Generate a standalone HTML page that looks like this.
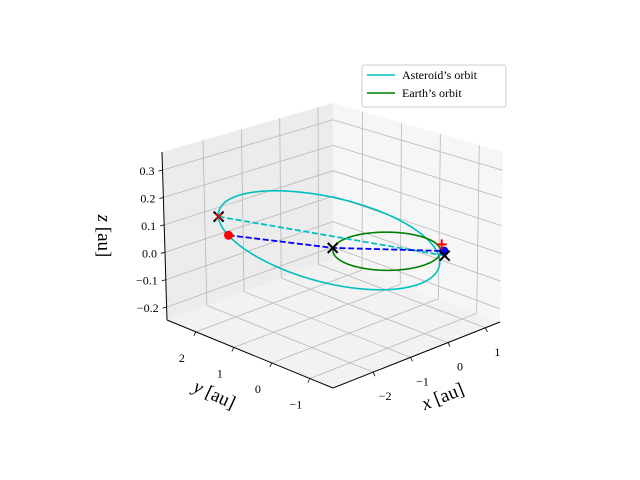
<!DOCTYPE html>
<html><head><meta charset="utf-8"><style>
html,body{margin:0;padding:0;background:#fff}
svg{display:block}
text{font-family:"Liberation Serif",serif;fill:#000}
</style></head><body>
<svg id="chart" width="640" height="480" viewBox="0 0 640 480" xmlns="http://www.w3.org/2000/svg">
<g id="panes"></g>
<g id="grid"></g>
<g id="axes"></g>
<g id="series"></g>
<g id="labels">
  <text x="445" y="402" font-size="19" text-anchor="middle" transform="rotate(-22 445 402)"><tspan font-style="italic">x</tspan> [au]</text>
  <text x="212" y="400" font-size="19" text-anchor="middle" transform="rotate(25 212 400)"><tspan font-style="italic">y</tspan> [au]</text>
  <text x="98" y="236" font-size="19" text-anchor="middle" transform="rotate(90 98 236)"><tspan font-style="italic">z</tspan> [au]</text>
</g>
<g>
  <rect x="362" y="65" width="144" height="42" rx="2" fill="#fff" fill-opacity="0.8" stroke="#cccccc"/>
  <line x1="367" y1="75" x2="395" y2="75" stroke="#00bfbf" stroke-width="1.5"/>
  <text x="402" y="79" font-size="12">Asteroid’s orbit</text>
  <line x1="367" y1="93" x2="395" y2="93" stroke="#008000" stroke-width="1.5"/>
  <text x="402" y="97" font-size="12">Earth’s orbit</text>
</g>
</svg>
<script>
// ---- data ----
const xTicks = [-2, -1, 0, 1];
const yTicks = [-1, 0, 1, 2];
const zTicks = [-0.2, -0.1, 0.0, 0.1, 0.2, 0.3];
const zTickLabels = ["\u22120.2", "\u22120.1", "0.0", "0.1", "0.2", "0.3"];
const xTickLabels = ["\u22122", "\u22121", "0", "1"];
const yTickLabels = ["\u22121", "0", "1", "2"];
// a, e, longitude of perihelion (deg), plane slope dz/dx, plane slope dz/dy
const asteroidElements = [2.05, 0.52, -45, -0.012, 0.044];
const earthElements = [1.0, 0.0, 0, 0, 0];
const asteroidPos1 = [-2.2, 2.2, 0.12];
const asteroidPos2 = [0.76, -0.68, 0.02];
const earthPos1 = [-0.7, 0.72, 0.01];
const earthPos2 = [0.74, -0.78, -0.015];
const projPos1 = [-2.05, 2.1, 0.05];
const projPos2 = [0.8, -0.7, -0.005];

// ---- projection (trilinear through box corners) ----
const XR = [-3.07, 1.39], YR = [-1.61, 2.76], ZR = [-0.247, 0.366];
const B = {f:[333,388], r:[500,322], l:[167,320], b:[333,259]};
const T = {f:[333,209], r:[503,152], l:[162,152], b:[333,103]};
function bil(C,u,v){return [0,1].map(k=>(1-u)*(1-v)*C.f[k]+u*(1-v)*C.r[k]+(1-u)*v*C.l[k]+u*v*C.b[k]);}
function P(x,y,z){
  const u=(x-XR[0])/(XR[1]-XR[0]), v=(y-YR[0])/(YR[1]-YR[0]), w=(z-ZR[0])/(ZR[1]-ZR[0]);
  const a=bil(B,u,v), t=bil(T,u,v);
  return [a[0]+(t[0]-a[0])*w, a[1]+(t[1]-a[1])*w];
}
const NS="http://www.w3.org/2000/svg";
function mk(tag, parent, attrs){const e=document.createElementNS(NS,tag);for(const k in attrs)e.setAttribute(k,attrs[k]);parent.appendChild(e);return e;}
function pts(arr){return arr.map(p=>{const q=P(p[0],p[1],p[2]);return q[0].toFixed(2)+","+q[1].toFixed(2);}).join(" ");}

const panes=document.getElementById('panes'), grid=document.getElementById('grid'), axes=document.getElementById('axes'), series=document.getElementById('series');
let e;
e=mk('polygon',panes,{points:pts([[XR[0],YR[0],ZR[0]],[XR[1],YR[0],ZR[0]],[XR[1],YR[1],ZR[0]],[XR[0],YR[1],ZR[0]]]),fill:'#f2f2f2'});


e=mk('polygon',panes,{points:pts([[XR[0],YR[1],ZR[0]],[XR[1],YR[1],ZR[0]],[XR[1],YR[1],ZR[1]],[XR[0],YR[1],ZR[1]]]),fill:'#ececec'});


e=mk('polygon',panes,{points:pts([[XR[1],YR[0],ZR[0]],[XR[1],YR[1],ZR[0]],[XR[1],YR[1],ZR[1]],[XR[1],YR[0],ZR[1]]]),fill:'#f6f6f6'});


function gl(a,b,name){const l=mk('polyline',grid,{points:pts([a,b]),fill:'none',stroke:'#b8b8b8','stroke-width':0.8});

}
xTicks.forEach(x=>{gl([x,YR[0],ZR[0]],[x,YR[1],ZR[0]],'grid-x-floor');gl([x,YR[1],ZR[0]],[x,YR[1],ZR[1]],'grid-x-wall');});
yTicks.forEach(y=>{gl([XR[0],y,ZR[0]],[XR[1],y,ZR[0]],'grid-y-floor');gl([XR[1],y,ZR[0]],[XR[1],y,ZR[1]],'grid-y-wall');});
zTicks.forEach(z=>{gl([XR[0],YR[1],z],[XR[1],YR[1],z],'grid-z-left');gl([XR[1],YR[1],z],[XR[1],YR[0],z],'grid-z-right');});
function al(a,b,name){const l=mk('polyline',axes,{points:pts([a,b]),fill:'none',stroke:'#000','stroke-width':1});

}
al([XR[0],YR[0],ZR[0]],[XR[1],YR[0],ZR[0]],'x-axis-line');
al([XR[0],YR[0],ZR[0]],[XR[0],YR[1],ZR[0]],'y-axis-line');
al([XR[0],YR[1],ZR[0]],[XR[0],YR[1],ZR[1]],'z-axis-line');
xTicks.forEach((x,i)=>{const p=P(x,YR[0],ZR[0]);
  const t=mk('line',axes,{x1:p[0],y1:p[1],x2:p[0]+2,y2:p[1]+4,stroke:'#000','stroke-width':0.8});
  
  
  const s=mk('text',axes,{x:p[0]+12,y:p[1]+28,'font-size':12,'text-anchor':'middle'});s.textContent=xTickLabels[i];
  
  });
yTicks.forEach((y,i)=>{const p=P(XR[0],y,ZR[0]);
  const t=mk('line',axes,{x1:p[0],y1:p[1],x2:p[0]-2,y2:p[1]+4,stroke:'#000','stroke-width':0.8});
  
  
  const s=mk('text',axes,{x:p[0]-14,y:p[1]+30,'font-size':12,'text-anchor':'middle'});s.textContent=yTickLabels[i];
  
  });
zTicks.forEach((z,i)=>{const p=P(XR[0],YR[1],z);
  const t=mk('line',axes,{x1:p[0],y1:p[1],x2:p[0]-4,y2:p[1]+1,stroke:'#000','stroke-width':0.8});
  
  
  const s=mk('text',axes,{x:p[0]-8,y:p[1]+5,'font-size':12,'text-anchor':'end'});s.textContent=zTickLabels[i];
  
  });

function orbit(el){const [a,ec,wD,sx,sy]=el;const w=wD*Math.PI/180;const out=[];
  for(let k=0;k<=240;k++){const nu=k/240*2*Math.PI;const r=a*(1-ec*ec)/(1+ec*Math.cos(nu));
    const x=r*Math.cos(w+nu), y=r*Math.sin(w+nu);
    out.push([x,y,sx*x+sy*y]);}
  return out;}
e=mk('polyline',series,{points:pts(orbit(asteroidElements)),fill:'none',stroke:'#00bfbf','stroke-width':1.6});


e=mk('polyline',series,{points:pts(orbit(earthElements)),fill:'none',stroke:'#008000','stroke-width':1.6});


e=mk('polyline',series,{points:pts([asteroidPos1,earthPos2]),fill:'none',stroke:'#00bfbf','stroke-width':1.8,'stroke-dasharray':'6,2.6'});


e=mk('polyline',series,{points:pts([projPos1,earthPos1,projPos2]),fill:'none',stroke:'#0000ff','stroke-width':1.8,'stroke-dasharray':'6,2.6'});


function xm(p,color,s,w,name){const q=P(p[0],p[1],p[2]);
  const m=mk('path',series,{d:`M${q[0]-s},${q[1]-s}L${q[0]+s},${q[1]+s}M${q[0]-s},${q[1]+s}L${q[0]+s},${q[1]-s}`,stroke:color,'stroke-width':w,fill:'none'});
  
  }
function dot(p,color,r,name){const q=P(p[0],p[1],p[2]);const c=mk('circle',series,{cx:q[0],cy:q[1],r:r,fill:color});
  
  }
dot(projPos1,'#ff0000',4.5,'asteroid-projection-dot');
dot(projPos2,'#0000ff',4.5,'earth-projection-dot');
xm(earthPos1,'#000',5,2,'earth-marker-1');
xm(earthPos2,'#000',5,2,'earth-marker-2');
xm(asteroidPos1,'#000',5,2,'asteroid-marker-1');
xm(asteroidPos1,'#ff0000',3,1.5,'asteroid-marker-1-red');
(function(){const q=P(asteroidPos2[0],asteroidPos2[1],asteroidPos2[2]);
  const m=mk('path',series,{d:`M${q[0]-5},${q[1]}L${q[0]+5},${q[1]}M${q[0]},${q[1]-5}L${q[0]},${q[1]+5}`,stroke:'#ff0000','stroke-width':2,fill:'none'});
  
  })();
</script>
</body></html>
